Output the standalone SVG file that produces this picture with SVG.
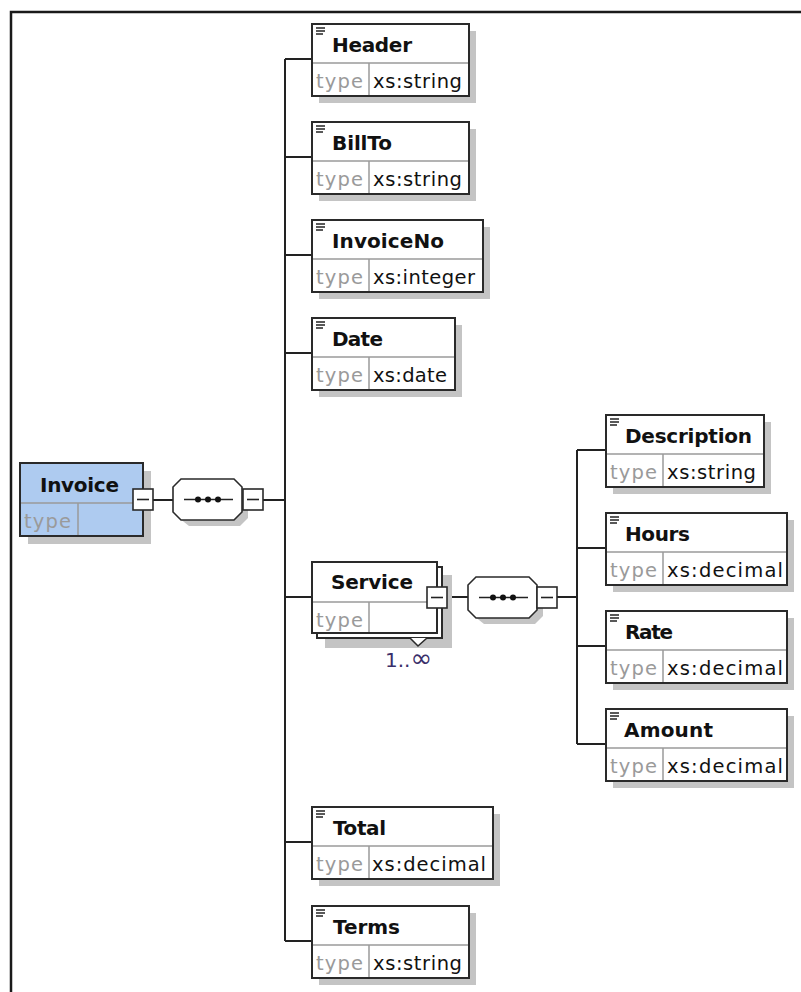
<svg xmlns="http://www.w3.org/2000/svg" xmlns:xlink="http://www.w3.org/1999/xlink" width="801" height="992" viewBox="0 0 801 992">
<style>
.sh{fill:#c4c4c4;stroke:none}
.box{fill:#fff;stroke:#2a2a2a;stroke-width:2}
.blue{fill:#aecbf0;stroke:#2a2a2a;stroke-width:2}
.div{stroke:#9a9a9a;stroke-width:1.5}
.ttl{font-family:"DejaVu Sans","Open Sans",sans-serif;font-weight:bold;font-size:20px;fill:#111}
.typ{font-family:"DejaVu Sans","Open Sans",sans-serif;font-size:19.5px;fill:#9a9a9a}
.val{font-family:"DejaVu Sans","Open Sans",sans-serif;font-size:19.5px;fill:#111}
.ln{stroke:#222;stroke-width:2;fill:none}
.btn{fill:#fff;stroke:#2a2a2a;stroke-width:1.6}
.mult{font-family:"DejaVu Sans","Open Sans",sans-serif;font-size:20px;fill:#3a2f6a}
</style>
<defs>
<g id="icon" stroke="#222" stroke-width="1.5">
<line x1="4" y1="4" x2="13" y2="4"/>
<line x1="4" y1="7" x2="13" y2="7"/>
<line x1="4" y1="10" x2="11" y2="10"/>
</g>
<g id="minus">
<rect class="btn" x="0" y="0" width="20" height="21"/>
<line x1="4" y1="10.5" x2="16" y2="10.5" stroke="#222" stroke-width="1.6"/>
</g>
<g id="seq">
<polygon class="sh" points="16,6 61,6 75,20 75,39 67,47 16,47 6,39 6,14"/>
<polygon fill="#fff" stroke="#2a2a2a" stroke-width="1.6" points="8,0 61,0 69,8 69,33 61,41 8,41 0,33 0,8"/>
<line x1="11" y1="20.5" x2="60" y2="20.5" stroke="#222" stroke-width="1.5"/>
<circle cx="25" cy="20.5" r="3" fill="#111"/>
<circle cx="35" cy="20.5" r="3" fill="#111"/>
<circle cx="45" cy="20.5" r="3" fill="#111"/>
</g>
</defs>
<rect width="801" height="992" fill="#fff"/>
<path d="M11,992 V12 H801" fill="none" stroke="#1a1a1a" stroke-width="2.5"/>

<g id="connectors">
<line class="ln" x1="153" y1="500" x2="173" y2="500"/>
<line class="ln" x1="263" y1="500" x2="285" y2="500"/>
<line class="ln" x1="285" y1="59" x2="285" y2="941"/>
<line class="ln" x1="285" y1="59" x2="312" y2="59"/>
<line class="ln" x1="285" y1="157" x2="312" y2="157"/>
<line class="ln" x1="285" y1="255" x2="312" y2="255"/>
<line class="ln" x1="285" y1="353" x2="312" y2="353"/>
<line class="ln" x1="285" y1="597" x2="312" y2="597"/>
<line class="ln" x1="285" y1="842" x2="312" y2="842"/>
<line class="ln" x1="285" y1="941" x2="312" y2="941"/>
<line class="ln" x1="447" y1="597" x2="468" y2="597"/>
<line class="ln" x1="557" y1="597" x2="577" y2="597"/>
<line class="ln" x1="577" y1="450" x2="577" y2="744"/>
<line class="ln" x1="577" y1="450" x2="606" y2="450"/>
<line class="ln" x1="577" y1="548" x2="606" y2="548"/>
<line class="ln" x1="577" y1="646" x2="606" y2="646"/>
<line class="ln" x1="577" y1="744" x2="606" y2="744"/>
</g>

<g id="invoice">
<rect class="sh" x="28" y="471" width="123" height="73"/>
<rect class="blue" x="20" y="463" width="123" height="73"/>
<line class="div" x1="21" y1="503" x2="142" y2="503"/>
<line class="div" x1="78" y1="503" x2="78" y2="535"/>
<text class="ttl" x="40" y="492" textLength="79" lengthAdjust="spacing">Invoice</text>
<text class="typ" x="24" y="528" textLength="47" lengthAdjust="spacing">type</text>
<use xlink:href="#minus" x="133" y="489"/>
</g>

<g id="seq1"><use xlink:href="#seq" x="173" y="479"/><use xlink:href="#minus" x="243" y="489"/></g>

<g id="header">
<rect class="sh" x="319" y="31" width="157" height="72"/>
<rect class="box" x="312" y="24" width="157" height="72"/>
<line class="div" x1="313" y1="63" x2="468" y2="63"/><line class="div" x1="369" y1="63" x2="369" y2="95"/>
<use xlink:href="#icon" x="312" y="24"/>
<text class="ttl" x="332" y="52" textLength="80" lengthAdjust="spacing">Header</text>
<text class="typ" x="316" y="88" textLength="47" lengthAdjust="spacing">type</text><text class="val" x="373" y="88" textLength="89" lengthAdjust="spacing">xs:string</text>
</g>

<g id="billto">
<rect class="sh" x="319" y="129" width="157" height="72"/>
<rect class="box" x="312" y="122" width="157" height="72"/>
<line class="div" x1="313" y1="161" x2="468" y2="161"/><line class="div" x1="369" y1="161" x2="369" y2="193"/>
<use xlink:href="#icon" x="312" y="122"/>
<text class="ttl" x="332" y="150" textLength="60" lengthAdjust="spacing">BillTo</text>
<text class="typ" x="316" y="186" textLength="47" lengthAdjust="spacing">type</text><text class="val" x="373" y="186" textLength="89" lengthAdjust="spacing">xs:string</text>
</g>

<g id="invoiceno">
<rect class="sh" x="319" y="227" width="171" height="72"/>
<rect class="box" x="312" y="220" width="171" height="72"/>
<line class="div" x1="313" y1="259" x2="482" y2="259"/><line class="div" x1="369" y1="259" x2="369" y2="291"/>
<use xlink:href="#icon" x="312" y="220"/>
<text class="ttl" x="332" y="248" textLength="112" lengthAdjust="spacing">InvoiceNo</text>
<text class="typ" x="316" y="284" textLength="47" lengthAdjust="spacing">type</text><text class="val" x="373" y="284" textLength="102" lengthAdjust="spacing">xs:integer</text>
</g>

<g id="date">
<rect class="sh" x="319" y="325" width="143" height="72"/>
<rect class="box" x="312" y="318" width="143" height="72"/>
<line class="div" x1="313" y1="357" x2="454" y2="357"/><line class="div" x1="369" y1="357" x2="369" y2="389"/>
<use xlink:href="#icon" x="312" y="318"/>
<text class="ttl" x="332" y="346" textLength="51" lengthAdjust="spacing">Date</text>
<text class="typ" x="316" y="382" textLength="47" lengthAdjust="spacing">type</text><text class="val" x="373" y="382" textLength="74" lengthAdjust="spacing">xs:date</text>
</g>

<g id="service">
<rect class="sh" x="325" y="575" width="127" height="73"/>
<rect class="box" x="317" y="567" width="125" height="71"/>
<polyline points="410,638 418,646 427,638" fill="#fff" stroke="#2a2a2a" stroke-width="1.6"/>
<rect class="box" x="312" y="562" width="125" height="71"/>
<line class="div" x1="313" y1="602" x2="436" y2="602"/><line class="div" x1="369" y1="602" x2="369" y2="632"/>
<text class="ttl" x="331" y="589" textLength="82" lengthAdjust="spacing">Service</text>
<text class="typ" x="316" y="627" textLength="47" lengthAdjust="spacing">type</text>
<use xlink:href="#minus" x="427" y="587"/>
<text class="mult" x="385" y="667">1..<tspan font-size="26px">∞</tspan></text>
</g>

<g id="seq2"><use xlink:href="#seq" x="468" y="577"/><use xlink:href="#minus" x="537" y="587"/></g>

<g id="total">
<rect class="sh" x="319" y="814" width="181" height="72"/>
<rect class="box" x="312" y="807" width="181" height="72"/>
<line class="div" x1="313" y1="846" x2="492" y2="846"/><line class="div" x1="369" y1="846" x2="369" y2="878"/>
<use xlink:href="#icon" x="312" y="807"/>
<text class="ttl" x="333" y="835" textLength="53" lengthAdjust="spacing">Total</text>
<text class="typ" x="316" y="871" textLength="47" lengthAdjust="spacing">type</text><text class="val" x="372" y="871" textLength="114" lengthAdjust="spacing">xs:decimal</text>
</g>

<g id="terms">
<rect class="sh" x="319" y="913" width="157" height="72"/>
<rect class="box" x="312" y="906" width="157" height="72"/>
<line class="div" x1="313" y1="945" x2="468" y2="945"/><line class="div" x1="369" y1="945" x2="369" y2="977"/>
<use xlink:href="#icon" x="312" y="906"/>
<text class="ttl" x="333" y="934" textLength="67" lengthAdjust="spacing">Terms</text>
<text class="typ" x="316" y="970" textLength="47" lengthAdjust="spacing">type</text><text class="val" x="373" y="970" textLength="89" lengthAdjust="spacing">xs:string</text>
</g>

<g id="description">
<rect class="sh" x="613" y="422" width="158" height="72"/>
<rect class="box" x="606" y="415" width="158" height="72"/>
<line class="div" x1="607" y1="454" x2="763" y2="454"/><line class="div" x1="663" y1="454" x2="663" y2="486"/>
<use xlink:href="#icon" x="606" y="415"/>
<text class="ttl" x="625" y="443" textLength="127" lengthAdjust="spacing">Description</text>
<text class="typ" x="610" y="479" textLength="47" lengthAdjust="spacing">type</text><text class="val" x="667" y="479" textLength="89" lengthAdjust="spacing">xs:string</text>
</g>

<g id="hours">
<rect class="sh" x="613" y="520" width="181" height="72"/>
<rect class="box" x="606" y="513" width="181" height="72"/>
<line class="div" x1="607" y1="552" x2="786" y2="552"/><line class="div" x1="663" y1="552" x2="663" y2="584"/>
<use xlink:href="#icon" x="606" y="513"/>
<text class="ttl" x="625" y="541" textLength="65" lengthAdjust="spacing">Hours</text>
<text class="typ" x="610" y="577" textLength="47" lengthAdjust="spacing">type</text><text class="val" x="667" y="577" textLength="116" lengthAdjust="spacing">xs:decimal</text>
</g>

<g id="rate">
<rect class="sh" x="613" y="618" width="181" height="72"/>
<rect class="box" x="606" y="611" width="181" height="72"/>
<line class="div" x1="607" y1="650" x2="786" y2="650"/><line class="div" x1="663" y1="650" x2="663" y2="682"/>
<use xlink:href="#icon" x="606" y="611"/>
<text class="ttl" x="625" y="639" textLength="48" lengthAdjust="spacing">Rate</text>
<text class="typ" x="610" y="675" textLength="47" lengthAdjust="spacing">type</text><text class="val" x="667" y="675" textLength="116" lengthAdjust="spacing">xs:decimal</text>
</g>

<g id="amount">
<rect class="sh" x="613" y="716" width="181" height="72"/>
<rect class="box" x="606" y="709" width="181" height="72"/>
<line class="div" x1="607" y1="748" x2="786" y2="748"/><line class="div" x1="663" y1="748" x2="663" y2="780"/>
<use xlink:href="#icon" x="606" y="709"/>
<text class="ttl" x="624" y="737" textLength="89" lengthAdjust="spacing">Amount</text>
<text class="typ" x="610" y="773" textLength="47" lengthAdjust="spacing">type</text><text class="val" x="667" y="773" textLength="116" lengthAdjust="spacing">xs:decimal</text>
</g>
</svg>
